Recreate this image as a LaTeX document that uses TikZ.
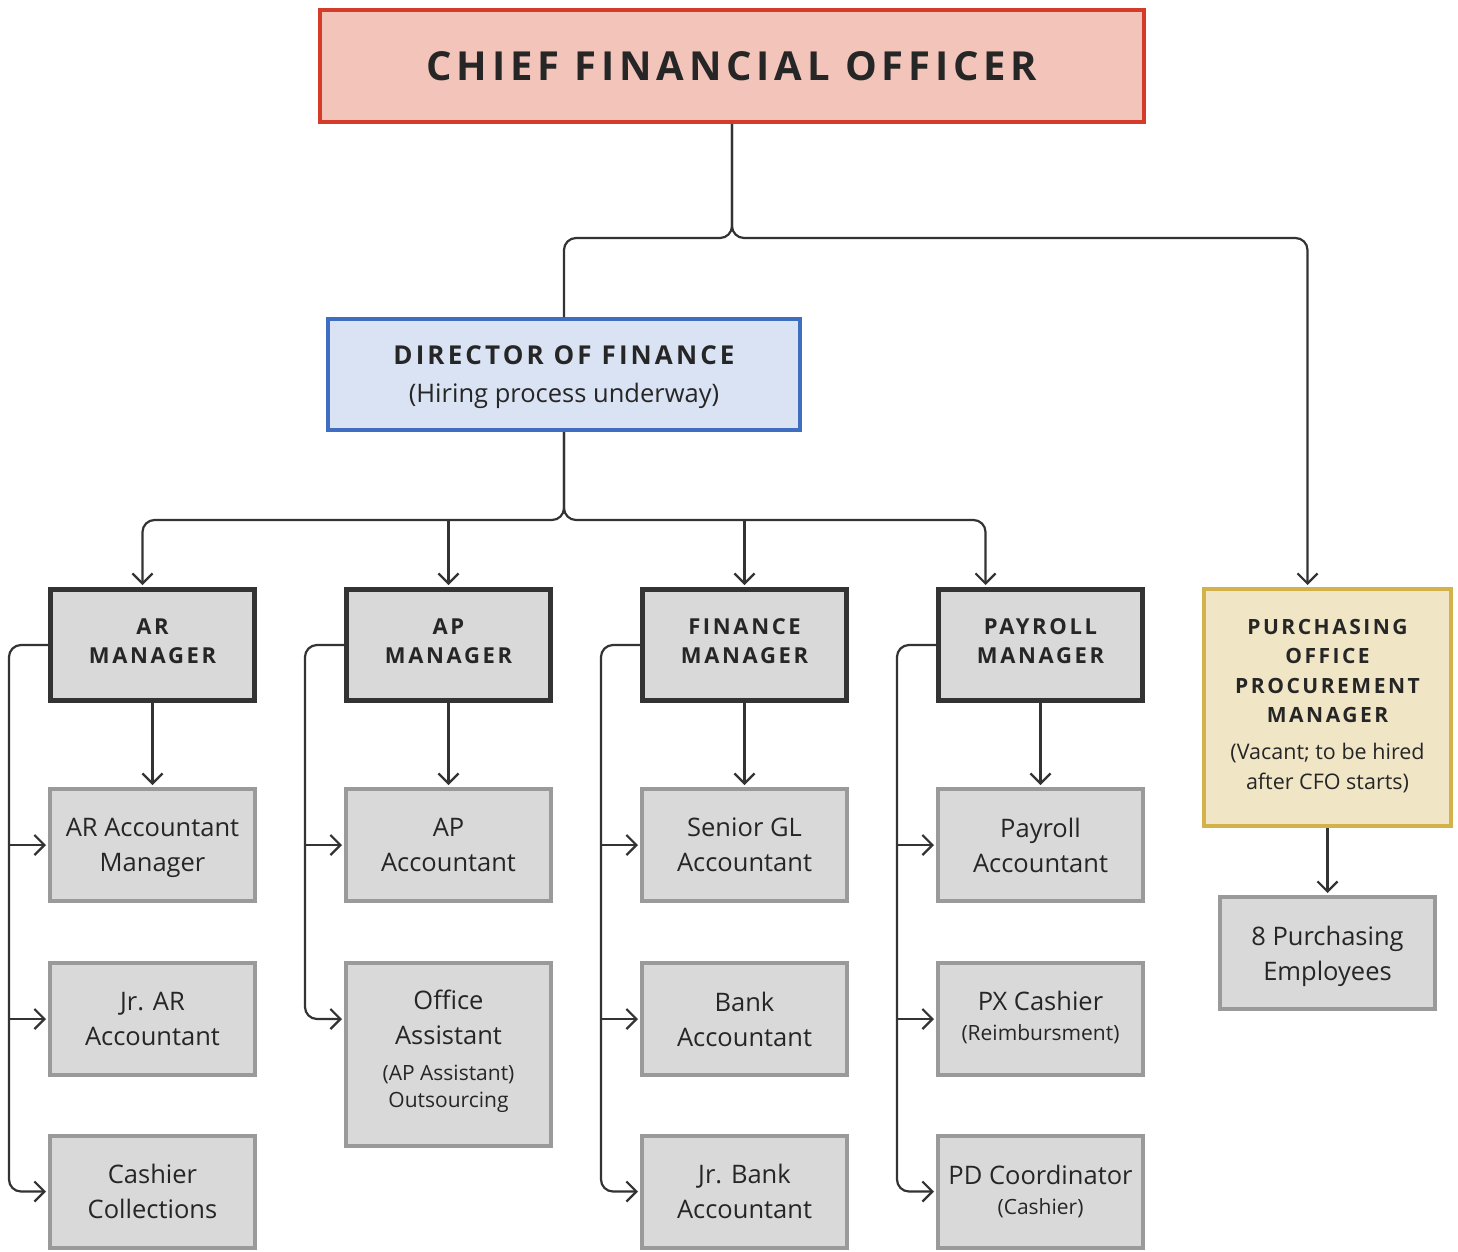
\documentclass[tikz,border=0pt]{standalone}
\usepackage{fontspec}
\setmainfont{Open Sans}
\newfontfamily\capsfont{Open Sans}[LetterSpace=12]
\usetikzlibrary{arrows.meta}
\definecolor{txtdark}{HTML}{262626}
\definecolor{linedark}{HTML}{333333}
\definecolor{boxgray}{HTML}{D9D9D9}
\definecolor{subline}{HTML}{9A9A9A}
\definecolor{cfored}{HTML}{D43B28}
\definecolor{cfofill}{HTML}{F2C4BA}
\definecolor{dirblue}{HTML}{3F6DBF}
\definecolor{dirfill}{HTML}{DAE3F3}
\definecolor{purgold}{HTML}{D4B24A}
\definecolor{purfill}{HTML}{F0E6C6}
\newcommand{\smalltxt}{\fontsize{21}{28}\selectfont}
\newcommand{\purcaps}{\capsfont\bfseries\fontsize{21}{29.5}\selectfont}

\begin{document}
\begin{tikzpicture}[x=1pt,y=-1pt,
  box/.style={draw, align=center, text=txtdark, inner sep=0pt, text depth=0pt},
  topbox/.style={box, line width=4pt},
  mgrbox/.style={box, draw=linedark, fill=boxgray, line width=5pt,
    minimum width=204, minimum height=111, text depth=8pt,
    font=\capsfont\bfseries\fontsize{22}{29}\selectfont},
  staffbox/.style={box, draw=subline, fill=boxgray, line width=4pt,
    minimum width=205, minimum height=112,
    font=\fontsize{25.5}{35}\selectfont},
  link/.style={draw=linedark, line width=2.2pt},
  arrow/.style={link, -{Straight Barb[length=10pt,width=20pt,line width=2.2pt]}, shorten >=2pt}]
\useasboundingbox (0,0) rectangle (1458,1251);
% top level
\node[topbox, draw=cfored, fill=cfofill, minimum width=824, minimum height=112,
  font=\capsfont\bfseries\fontsize{40}{48}\selectfont] (cfo) at (732,66) {CHIEF FINANCIAL OFFICER};
\node[topbox, draw=dirblue, fill=dirfill, minimum width=472, minimum height=111,
  font=\fontsize{25.5}{38}\selectfont] (dir) at (564,374.5)
  {{\capsfont\bfseries\fontsize{26}{38}\selectfont DIRECTOR OF FINANCE}\\
   (Hiring process underway)};
\node[topbox, draw=purgold, fill=purfill, minimum width=247, minimum height=237, text depth=7pt,
  font=\fontsize{21.5}{29.5}\selectfont] (pur) at (1327.5,707.5)
  {{\purcaps PURCHASING}\\{\purcaps OFFICE}\\{\purcaps PROCUREMENT}\\{\purcaps MANAGER}\\[7.5pt]
   (Vacant; to be hired\\after CFO starts)};
% managers
\node[mgrbox] (ar) at (152.5,645) {AR\\MANAGER};
\node[mgrbox] (ap) at (448.5,645) {AP\\MANAGER};
\node[mgrbox] (fin) at (744.5,645) {FINANCE\\MANAGER};
\node[mgrbox] (pay) at (1040.5,645) {PAYROLL\\MANAGER};
% staff
\node[staffbox] (ar1) at (152.5,845) {AR Accountant\\Manager};
\node[staffbox] (ar2) at (152.5,1019) {Jr. AR\\Accountant};
\node[staffbox] (ar3) at (152.5,1191.5) {Cashier\\Collections};
\node[staffbox] (ap1) at (448.5,845) {AP\\Accountant};
\node[staffbox, minimum height=183, text depth=11pt] (ap2) at (448.5,1054.5)
  {Office\\Assistant\\[1pt]{\smalltxt (AP Assistant)}\\[-8pt]{\smalltxt Outsourcing}};
\node[staffbox] (fin1) at (744.5,845) {Senior GL\\Accountant};
\node[staffbox] (fin2) at (744.5,1019) {Bank\\Accountant};
\node[staffbox] (fin3) at (744.5,1191.5) {Jr. Bank\\Accountant};
\node[staffbox] (pay1) at (1040.5,845) {Payroll\\Accountant};
\node[staffbox, text depth=6pt] (pay2) at (1040.5,1019) {PX Cashier\\[-5pt]{\smalltxt (Reimbursment)}};
\node[staffbox, text depth=4pt] (pay3) at (1040.5,1191.5) {PD Coordinator\\[-5pt]{\smalltxt (Cashier)}};
\node[staffbox, minimum width=215] (pur1) at (1327.5,953) {8 Purchasing\\Employees};
% CFO branches
\coordinate (split) at (0,238);
\draw[link, rounded corners=12] (cfo.south) -- (cfo.south |- split) -| (dir.north);
\draw[arrow, rounded corners=12] (cfo.south) -- (cfo.south |- split) -| ([xshift=-20]pur.north);
\draw[arrow] (pur.south) -- (pur1.north);
% director branches
\coordinate (bar) at (0,520);
\draw[arrow, rounded corners=12] (dir.south) -- (dir.south |- bar) -| ([xshift=-10]ar.north);
\draw[arrow, rounded corners=12] (dir.south) -- (dir.south |- bar) -| ([xshift=-55]pay.north);
\draw[arrow] (ap.north |- bar) -- (ap.north);
\draw[arrow] (fin.north |- bar) -- (fin.north);
% manager to staff
\coordinate (ap2-in) at (ap2.west |- ar2.west);
\foreach \m in {ar,ap,fin,pay}{
  \draw[arrow] (\m.south) -- (\m1.north);
  \coordinate (\m-bus) at ([xshift=-39]\m.west);
}
\foreach \m/\last in {ar/ar3.west,ap/ap2-in,fin/fin3.west,pay/pay3.west}{
  \draw[arrow, rounded corners=12] (\m.west) -- (\m-bus) |- (\last);
}
\foreach \s/\m in {ar1/ar,ar2/ar,ap1/ap,fin1/fin,fin2/fin,pay1/pay,pay2/pay}{
  \draw[arrow] (\m-bus |- \s.west) -- (\s.west);
}
\end{tikzpicture}
\end{document}
